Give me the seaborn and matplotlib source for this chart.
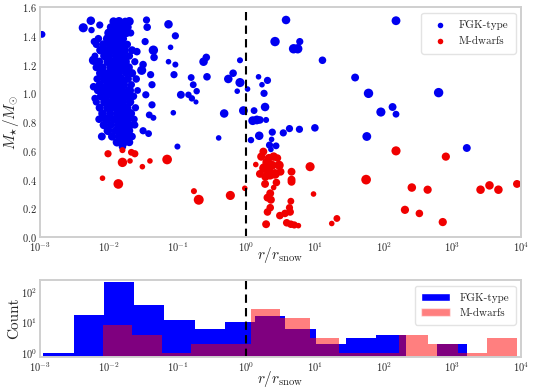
import numpy as np
import pandas as pd
import matplotlib
matplotlib.use("Agg")
import matplotlib.pyplot as plt
from matplotlib.patches import Patch
import seaborn as sns

# ---------------- data (log10 r/r_snow, mass, marker size) ----------------
fgk_logr = [
    -2.97, -2.37, -2.26, -2.25, -2.13, -2.21, -2.22, -2.22, -2.20, -2.10, -2.07,
    # dense cluster
    -1.93, -1.85, -1.76, -1.70,
    -1.97, -1.88, -1.80, -1.72,
    -2.00, -1.92, -1.83, -1.74, -1.68,
    -2.15, -2.02, -1.95, -1.86, -1.79,
    -2.18, -2.08, -1.98, -1.90, -1.82, -1.73,
    -2.12, -2.03, -1.93, -1.85, -1.77, -1.66,
    -2.20, -2.06, -1.99, -1.88, -1.80, -1.70,
    -2.14, -2.01, -1.94, -1.84, -1.76, -1.62,
    -2.18, -2.09, -1.97, -1.89, -1.79, -1.71,
    -2.12, -2.04, -1.95, -1.86, -1.75, -1.66,
    -2.17, -2.07, -1.99, -1.91, -1.82, -1.72, -1.60,
    -2.13, -2.02, -1.94, -1.85, -1.78, -1.67,
    -2.16, -2.08, -1.98, -1.89, -1.80, -1.70, -1.58,
    -2.11, -2.03, -1.93, -1.84, -1.74, -1.64,
    -2.18, -2.06, -1.97, -1.88, -1.79, -1.69,
    -2.13, -2.01, -1.92, -1.83, -1.73, -1.61,
    -2.09, -1.98, -1.87, -1.78, -1.68,
    -2.14, -2.03, -1.93, -1.82, -1.72, -1.63,
    -2.07, -1.97, -1.86, -1.76, -1.67,
    -2.01, -1.90, -1.80, -1.70,
    -1.95, -1.84, -1.73, -1.66,
    -1.88, -1.78, -1.70,
    -1.80,
    # right of cluster
    -1.45, -1.44, -1.13, -1.03, -1.10, -1.35, -1.47, -1.59, -1.34, -1.13, -1.03,
    -1.05, -1.50, -1.52, -1.39, -1.37, -1.46, -1.37, -1.41, -1.35, -1.62, -1.42,
    -1.50, -1.06, -1.00, -0.80, -0.77, -0.72, -0.95, -0.84, -0.79, -0.73, -0.62,
    -0.58, -0.57, -0.09, -0.19, -0.26, -0.09, -0.13, -0.32, -0.40, -0.04, 0.02,
    # right of snow line
    0.58, 0.42, 0.78, 0.69, 0.75, 1.11, 1.585, 0.18, 0.31, 0.23, 0.26, 0.115,
    0.275, 0.095, 0.155, 0.20, 0.29, 0.19, 0.38, 0.54, 0.63, 0.775, 1.00, 0.07,
    0.37, 0.34, 0.435, 0.36, 2.18, 1.78, 2.80, 1.96, 2.13, 2.18, 1.755, 3.21,
]
fgk_mass = [
    1.41, 1.456, 1.505, 1.44, 1.475, 1.36, 1.23, 1.046, 0.965, 0.70, 0.83,
    1.50, 1.50, 1.50, 1.50,
    1.46, 1.46, 1.46, 1.46,
    1.42, 1.42, 1.42, 1.42, 1.42,
    1.38, 1.38, 1.38, 1.38, 1.38,
    1.34, 1.34, 1.34, 1.34, 1.34, 1.34,
    1.30, 1.30, 1.30, 1.30, 1.30, 1.30,
    1.26, 1.26, 1.26, 1.26, 1.26, 1.26,
    1.22, 1.22, 1.22, 1.22, 1.22, 1.22,
    1.18, 1.18, 1.18, 1.18, 1.18, 1.18,
    1.14, 1.14, 1.14, 1.14, 1.14, 1.14,
    1.10, 1.10, 1.10, 1.10, 1.10, 1.10, 1.10,
    1.06, 1.06, 1.06, 1.06, 1.06, 1.06,
    1.02, 1.02, 1.02, 1.02, 1.02, 1.02, 1.02,
    0.98, 0.98, 0.98, 0.98, 0.98, 0.98,
    0.94, 0.94, 0.94, 0.94, 0.94, 0.94,
    0.90, 0.90, 0.90, 0.90, 0.90, 0.90,
    0.86, 0.86, 0.86, 0.86, 0.86,
    0.82, 0.82, 0.82, 0.82, 0.82, 0.82,
    0.78, 0.78, 0.78, 0.78, 0.78,
    0.74, 0.74, 0.74, 0.74,
    0.70, 0.70, 0.70, 0.70,
    0.66, 0.66, 0.66,
    0.63,
    1.51, 1.46, 1.48, 1.40, 1.32, 1.30, 1.36, 1.29, 1.25, 1.22, 1.20,
    1.13, 1.20, 1.16, 1.13, 1.06, 0.99, 0.92, 0.85, 0.83, 0.78, 0.72,
    0.74, 0.865, 0.63, 1.11, 1.06, 1.015, 0.99, 0.99, 0.965, 0.94, 1.22,
    1.25, 1.115, 1.23, 1.14, 1.10, 1.075, 1.015, 0.86, 0.69, 0.88, 1.03,
    1.51, 1.36, 1.36, 1.31, 1.31, 1.23, 1.11, 1.115, 1.09, 1.06, 1.00, 0.88,
    0.905, 0.81, 0.815, 0.815, 0.815, 0.705, 0.73, 0.725, 0.755, 0.75, 0.76, 0.675,
    0.68, 0.64, 0.635, 0.61, 1.505, 1.00, 1.005, 0.87, 0.905, 0.855, 0.70, 0.62,
]
fgk_size = [
    18, 32, 28, 16, 20, 20, 34, 22, 20, 24, 20,
    26, 30, 22, 30,
    24, 34, 28, 22,
    30, 24, 34, 26, 20,
    22, 30, 26, 34, 24,
    20, 26, 32, 24, 30, 22,
    28, 24, 34, 26, 30, 24,
    18, 30, 24, 34, 26, 22,
    26, 32, 24, 28, 34, 20,
    22, 26, 30, 24, 34, 28,
    30, 24, 28, 34, 22, 26,
    20, 28, 34, 26, 30, 24, 22,
    26, 30, 24, 34, 28, 20,
    22, 32, 26, 30, 24, 34, 18,
    28, 24, 34, 26, 30, 22,
    20, 30, 26, 34, 24, 28,
    26, 32, 24, 30, 28, 20,
    28, 24, 34, 26, 30,
    22, 30, 26, 34, 24, 20,
    28, 24, 32, 30, 22,
    30, 26, 34, 24,
    26, 32, 28, 22,
    28, 30, 24,
    22,
    20, 22, 28, 20, 12, 34, 20, 22, 22, 12, 14,
    20, 22, 32, 20, 20, 20, 20, 18, 14, 20, 18,
    20, 12, 14, 18, 18, 16, 24, 16, 16, 10, 28,
    22, 22, 14, 22, 28, 32, 12, 28, 12, 30, 12,
    28, 34, 20, 34, 34, 22, 24, 12, 20, 12, 20, 18,
    28, 30, 30, 22, 14, 28, 20, 20, 20, 20, 22, 16,
    12, 20, 18, 12, 30, 34, 34, 32, 24, 18, 30, 24,
]

md_logr = [
    -2.01, -1.80, -1.80, -1.69, -2.09, -1.86, -1.62, -1.67, -1.51, -1.40, -1.15,
    -0.76, -0.69, -0.23, -0.02,
    0.25, 0.40, 0.455, 0.14, 0.26, 0.32, 0.48, 0.42, 0.35, 0.50, 0.66, 0.93,
    0.275, 0.40, 0.66, 0.35, 0.31, 0.36, 0.65, 0.98, 0.35, 0.31, 0.63, 0.64,
    0.565, 0.49, 0.29, 0.59, 0.65, 0.70, 0.76, 1.245, 1.32, 0.66, 1.745, 2.18,
    2.905, 2.41, 2.64, 2.31, 2.52, 2.86, 3.41, 3.54, 3.67, 3.94,
    0.30, 0.38, 0.22, 0.28, 0.44, 0.20, 0.33,
]
md_mass = [
    0.58, 0.605, 0.52, 0.53, 0.41, 0.37, 0.58, 0.59, 0.49, 0.53, 0.54,
    0.32, 0.26, 0.29, 0.34,
    0.595, 0.56, 0.55, 0.505, 0.48, 0.47, 0.50, 0.44, 0.43, 0.455, 0.455, 0.49,
    0.37, 0.345, 0.40, 0.305, 0.275, 0.26, 0.25, 0.30, 0.205, 0.175, 0.205, 0.175,
    0.165, 0.15, 0.09, 0.10, 0.09, 0.085, 0.08, 0.095, 0.13, 0.385, 0.40, 0.60,
    0.56, 0.345, 0.33, 0.19, 0.165, 0.105, 0.33, 0.36, 0.33, 0.37,
    0.52, 0.50, 0.56, 0.42, 0.38, 0.44, 0.55,
]
md_size = [
    20, 14, 34, 12, 12, 36, 20, 18, 12, 12, 36,
    14, 38, 32, 12,
    24, 28, 22, 12, 36, 36, 32, 36, 28, 24, 24, 32,
    24, 12, 24, 24, 24, 24, 18, 12, 22, 22, 20, 22,
    22, 22, 24, 22, 22, 20, 12, 12, 18, 24, 36, 32,
    26, 28, 26, 26, 22, 26, 28, 28, 28, 24,
    30, 30, 26, 26, 22, 24, 26,
]

# histogram (bin edges in log10 r/r_snow, counts)
fgk_edges = [-2.95, -2.51, -2.07, -1.63, -1.19, -0.75, -0.31, 0.13, 0.57,
             1.01, 1.45, 1.89, 2.33, 2.77, 3.21]
fgk_counts = [1, 18, 209, 38, 12, 6, 10, 16, 6, 2, 3, 4, 0, 2]
md_edges = [-2.087, -1.657, -1.226, -0.796, -0.365, 0.065, 0.496, 0.926,
            1.357, 1.787, 2.217, 2.648, 3.078, 3.509, 3.939]
md_counts = [8, 4, 1, 2, 2, 28, 14, 3, 1, 1, 4, 2, 1, 3]

labels = ["FGK-type", "M-dwarfs"]

# ---------------- style ----------------
sns.set_style("white")
plt.rcParams.update({
    "font.family": ["cmr10", "DejaVu Serif"],
    "mathtext.fontset": "cm",
    "axes.formatter.use_mathtext": True,
    "axes.unicode_minus": False,
    "axes.edgecolor": "#cfcfcf",
    "axes.linewidth": 1.4,
})

SIZE_SCALE = 1.35

fig = plt.figure(figsize=(5.4, 3.92), dpi=100)
ax1 = fig.add_axes([0.074, 0.395, 0.891, 0.587])
ax2 = fig.add_axes([0.074, 0.089, 0.891, 0.196])

fgk = pd.DataFrame({"r": np.power(10.0, fgk_logr), "M": fgk_mass, "s": fgk_size})
md = pd.DataFrame({"r": np.power(10.0, md_logr), "M": md_mass, "s": md_size})

sns.scatterplot(data=fgk, x="r", y="M", s=fgk["s"] * SIZE_SCALE, color="#0000f0",
                linewidth=0, label=labels[0], ax=ax1)
sns.scatterplot(data=md, x="r", y="M", s=md["s"] * SIZE_SCALE, color="#f00000",
                linewidth=0, label=labels[1], ax=ax1)
ax1.set_xscale("log")
ax1.set_xlim(1e-3, 1e4)
ax1.set_ylim(0, 1.6)
ax1.set_yticks([0.0, 0.2, 0.4, 0.6, 0.8, 1.0, 1.2, 1.4, 1.6])
ax1.axvline(1.0, color="black", ls=(0, (4, 2.5)), lw=1.5)
ax1.set_xlabel(r"$r/r_{\rm snow}$", fontsize=11)
ax1.set_ylabel(r"$M_{\star}/M_{\odot}$", fontsize=11)
ax1.xaxis.set_label_coords(0.5, -0.035)
ax1.yaxis.set_label_coords(-0.04, 0.5)
leg1 = ax1.legend(loc="upper right", fontsize=8,
                  handletextpad=0.6, borderpad=0.7, frameon=True)
leg1.get_frame().set_edgecolor("#dddddd")
for h in leg1.legend_handles:
    h.set_sizes([16])

# bottom histogram
fgk_centers = [(a + b) / 2 for a, b in zip(fgk_edges[:-1], fgk_edges[1:])]
md_centers = [(a + b) / 2 for a, b in zip(md_edges[:-1], md_edges[1:])]
hist_fgk = pd.DataFrame({"r": np.power(10.0, fgk_centers), "w": fgk_counts})
hist_md = pd.DataFrame({"r": np.power(10.0, md_centers), "w": md_counts})

sns.histplot(data=hist_fgk, x="r", weights="w", bins=fgk_edges, log_scale=True,
             color="#0000ff", alpha=1.0, linewidth=0, ax=ax2)
sns.histplot(data=hist_md, x="r", weights="w", bins=md_edges, log_scale=True,
             color="#ff0000", alpha=0.5, linewidth=0, ax=ax2)
ax2.set_yscale("log")
ax2.set_xlim(1e-3, 1e4)
ax2.set_ylim(0.73, 240)
ax2.axvline(1.0, color="black", ls=(0, (4, 2.5)), lw=1.5)
ax2.set_xlabel(r"$r/r_{\rm snow}$", fontsize=11)
ax2.set_ylabel("Count", fontsize=11)
ax2.xaxis.set_label_coords(0.5, -0.16)
ax2.yaxis.set_label_coords(-0.04, 0.5)
leg2 = ax2.legend(handles=[Patch(facecolor="#0000ff", label=labels[0]),
                           Patch(facecolor="#ff0000", alpha=0.5, label=labels[1])],
                  loc="upper right", fontsize=8, handlelength=2.6,
                  borderpad=0.6, frameon=True)
leg2.get_frame().set_edgecolor("#dddddd")

for ax in (ax1, ax2):
    ax.tick_params(axis="both", labelsize=7.5, length=0, pad=2)
    ax.minorticks_off()

fig.savefig("out.png", dpi=100)
